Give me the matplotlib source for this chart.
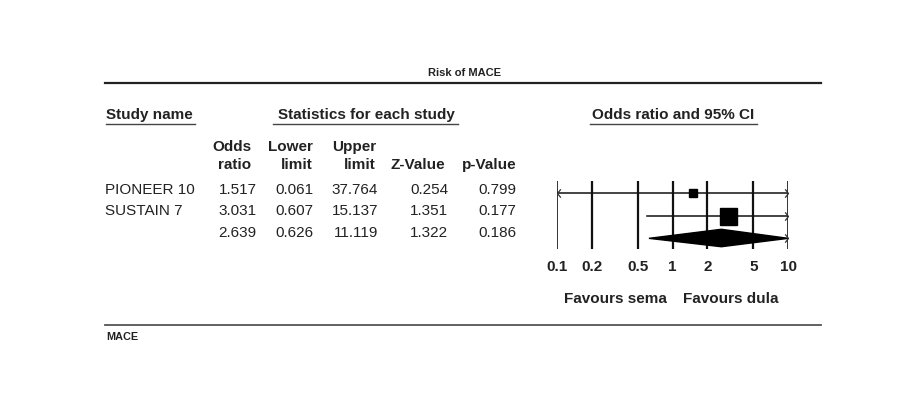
import numpy as np
import matplotlib.pyplot as plt
from matplotlib.path import Path

# data
studies = ["PIONEER 10", "SUSTAIN 7", ""]
odds = [1.517, 3.031, 2.639]
lower = [0.061, 0.607, 0.626]
upper = [37.764, 15.137, 11.119]
zval = [0.254, 1.351, 1.322]
pval = [0.799, 0.177, 0.186]
weights = [8, 17]  # square size (px) of the two studies
ticks = [0.1, 0.2, 0.5, 1, 2, 5, 10]

W, H = 905, 410
fig = plt.figure(figsize=(W / 100, H / 100), dpi=100)
fig.patch.set_facecolor("white")

# full figure axes in pixel coords for the table part
bg = fig.add_axes([0, 0, 1, 1])
bg.set_xlim(0, W)
bg.set_ylim(H, 0)
bg.axis("off")

font = "Liberation Sans"
txt = "#222222"
fs = 11

bg.text(464, 73, "Risk of MACE", fontsize=8, fontweight="bold", family=font,
        ha="center", va="center", color=txt)
bg.plot([105, 821], [84, 84], color="#222222", lw=1.6)

# section headers with underlines
for label, x0, x1, xc in [("Study name", 106, 195, None),
                          ("Statistics for each study", 273, 458, 366),
                          ("Odds ratio and 95% CI", 590, 757, 673)]:
    if xc is None:
        bg.text(x0, 115, label, fontsize=fs, fontweight="bold", family=font,
                ha="left", va="center", color=txt)
    else:
        bg.text(xc, 115, label, fontsize=fs, fontweight="bold", family=font,
                ha="center", va="center", color=txt)
    bg.plot([x0, x1], [125, 125], color="#444444", lw=1)

# column headers
head_top = ["Odds", "Lower", "Upper", "", ""]
head_bot = ["ratio", "limit", "limit", "Z-Value", "p-Value"]
head_x = [251.5, 313, 376, 445, 516.5]
for t, b, x in zip(head_top, head_bot, head_x):
    bg.text(x, 147, t, fontsize=fs, fontweight="bold", family=font,
            ha="right", va="center", color=txt)
    bg.text(x, 165, b, fontsize=fs, fontweight="bold", family=font,
            ha="right", va="center", color=txt)

row_y = [190, 211.5, 233]
val_x = [256.5, 313, 378, 448, 516.5]
for i in range(len(studies)):
    bg.text(105, row_y[i], studies[i], fontsize=fs, family=font,
            ha="left", va="center", color=txt)
    vals = [odds[i], lower[i], upper[i], zval[i], pval[i]]
    for v, x in zip(vals, val_x):
        bg.text(x, row_y[i], "%.3f" % v, fontsize=fs, family=font,
                ha="right", va="center", color=txt)

bg.text(615, 299, "Favours sema", fontsize=fs, fontweight="bold", family=font,
        ha="center", va="center", color=txt)
bg.text(731, 299, "Favours dula", fontsize=fs, fontweight="bold", family=font,
        ha="center", va="center", color=txt)
bg.plot([105, 821], [326, 326], color="#555555", lw=1.3)
bg.text(106, 337, "MACE", fontsize=7.8, fontweight="bold", family=font,
        ha="left", va="center", color=txt)

# forest plot axes
x0, x1 = 556.7, 788.3
y0, y1 = 182, 250
ax = fig.add_axes([x0 / W, 1 - y1 / H, (x1 - x0) / W, (y1 - y0) / H])
ax.set_xscale("log")
ax.set_xlim(0.1, 10)
ax.set_ylim(2.47, -0.53)
ax.patch.set_alpha(0)
for s in ax.spines.values():
    s.set_visible(False)
ax.set_yticks([])
ax.set_xticks(ticks)
ax.set_xticklabels([("%g" % t) for t in ticks], fontsize=fs, fontweight="bold",
                   family=font, color=txt)
ax.tick_params(axis="x", length=0, pad=7)
ax.minorticks_off()
for t in ticks:
    ax.axvline(t, color="#111111", lw=1.6 if 0.1 < t < 10 else 1.2, zorder=1)

# open chevrons for clipped intervals
left_arrow = Path([(0.0, 0.0), (0.8, 1.0), (0.0, 0.0), (0.8, -1.0)],
                  [Path.MOVETO, Path.LINETO, Path.MOVETO, Path.LINETO])
right_arrow = Path([(0.0, 0.0), (-0.8, 1.0), (0.0, 0.0), (-0.8, -1.0)],
                   [Path.MOVETO, Path.LINETO, Path.MOVETO, Path.LINETO])


def chevron(x, y, path):
    ax.plot([x], [y], marker=path, ms=6, mfc="none", mec="#333333", mew=0.9,
            zorder=4, clip_on=False)


for i in range(2):
    lo = max(lower[i], 0.1)
    hi = min(upper[i], 10)
    ax.plot([lo, hi], [i, i], color="#111111", lw=1.1, zorder=2)
    ax.plot([odds[i]], [i], marker="s", ms=weights[i] * 0.72, color="black",
            zorder=3)
    if lower[i] < 0.1:
        chevron(0.1, i, left_arrow)
    if upper[i] > 10:
        chevron(10, i, right_arrow)

# pooled diamond
hi = min(upper[2], 10)
ax.fill([lower[2], odds[2], hi, odds[2]], [2, 1.6, 2, 2.37], color="black",
        zorder=3, clip_on=False)
if upper[2] > 10:
    chevron(10, 2, right_arrow)

fig.savefig("out.png", dpi=100)
